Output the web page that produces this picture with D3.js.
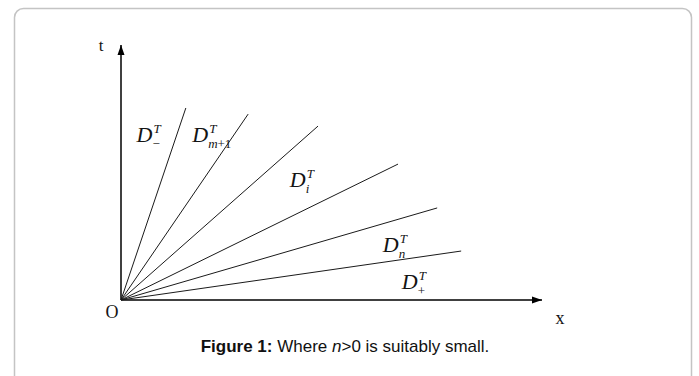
<!DOCTYPE html>
<html>
<head>
<meta charset="utf-8">
<script src="https://cdn.jsdelivr.net/npm/d3@7"></script>
<style>
  html, body { margin: 0; padding: 0; background: #fff; }
  svg { display: block; }
  .lbl { font-family: "Liberation Serif", "DejaVu Serif", serif; fill: #141414; }
</style>
</head>
<body>
<div id="chart"></div>
<script>
const width = 699;
const height = 376;

// end points of the rays from O (x, t in axis units 0..1)
const rayX = [0.154, 0.302, 0.468, 0.658, 0.751, 0.808];
const rayT = [0.753, 0.729, 0.682, 0.533, 0.361, 0.192];

// region labels D^T_sub (italic part, upright part)
const labelSubIt = ["", "m", "i", "n", ""];
const labelSubUp = ["\u2212", "+1", "", "", "+"];
const labelX = [0.037, 0.169, 0.401, 0.622, 0.667];
const labelT = [0.62, 0.62, 0.443, 0.188, 0.043];

const caption = ["Figure 1:", " Where ", "n", ">0 is suitably small."];

const svg = d3.select("#chart")
    .append("svg")
    .attr("width", width)
    .attr("height", height);

// frame
svg.append("rect")
    .attr("x", 14.5)
    .attr("y", 8.5)
    .attr("width", 677)
    .attr("height", 390)
    .attr("rx", 9)
    .attr("fill", "none")
    .attr("stroke", "#c4c4c4")
    .attr("stroke-width", 1.5);

const x = d3.scaleLinear().domain([0, 1]).range([121, 542]);
const y = d3.scaleLinear().domain([0, 1]).range([300, 45]);

svg.append("defs").append("marker")
    .attr("id", "arrow")
    .attr("viewBox", "0 0 10 10")
    .attr("refX", 10)
    .attr("refY", 5)
    .attr("markerWidth", 10)
    .attr("markerHeight", 10)
    .attr("markerUnits", "userSpaceOnUse")
    .attr("orient", "auto")
    .append("path")
    .attr("d", "M0,1.5 L10,5 L0,8.5 Z")
    .attr("fill", "#000");

// axes
svg.append("line")
    .attr("x1", x(0)).attr("y1", y(0))
    .attr("x2", x(1)).attr("y2", y(0))
    .attr("stroke", "#000").attr("stroke-width", 1.5)
    .attr("marker-end", "url(#arrow)");

svg.append("line")
    .attr("x1", x(0)).attr("y1", y(0))
    .attr("x2", x(0)).attr("y2", y(1))
    .attr("stroke", "#000").attr("stroke-width", 1.5)
    .attr("marker-end", "url(#arrow)");

// rays
svg.selectAll(".ray")
    .data(rayX.map((d, i) => ({ x: d, t: rayT[i] })))
    .join("line")
    .attr("class", "ray")
    .attr("x1", x(0)).attr("y1", y(0))
    .attr("x2", d => x(d.x)).attr("y2", d => y(d.t))
    .attr("stroke", "#1a1a1a")
    .attr("stroke-width", 1);

// axis names
svg.append("text").attr("class", "lbl").attr("x", 101).attr("y", 51)
    .attr("text-anchor", "middle").attr("font-size", 17).text("t");
svg.append("text").attr("class", "lbl").attr("x", 112).attr("y", 318)
    .attr("text-anchor", "middle").attr("font-size", 18).text("O");
svg.append("text").attr("class", "lbl").attr("x", 560).attr("y", 324)
    .attr("text-anchor", "middle").attr("font-size", 18).text("x");

// region labels
const lab = svg.selectAll(".region")
    .data(labelSubIt.map((s, i) => ({ it: s, up: labelSubUp[i], x: labelX[i], t: labelT[i] })))
    .join("g")
    .attr("class", "region")
    .attr("transform", d => `translate(${x(d.x)},${y(d.t)})`);

lab.append("text")
    .attr("class", "lbl")
    .attr("font-size", 22)
    .attr("font-style", "italic")
    .text("D");
lab.append("text")
    .attr("class", "lbl")
    .attr("x", 17)
    .attr("y", -9)
    .attr("font-size", 13)
    .attr("font-style", "italic")
    .text("T");
const sub = lab.append("text")
    .attr("class", "lbl")
    .attr("x", 16)
    .attr("y", 6)
    .attr("font-size", 13);
sub.append("tspan").attr("font-style", "italic").text(d => d.it);
sub.append("tspan").text(d => d.up);

// caption
const cap = svg.append("text")
    .attr("x", 345)
    .attr("y", 352)
    .attr("text-anchor", "middle")
    .attr("font-family", "Liberation Sans, Arial, sans-serif")
    .attr("font-size", 17)
    .attr("fill", "#111");
cap.selectAll("tspan")
    .data(caption)
    .join("tspan")
    .attr("font-weight", (d, i) => i === 0 ? "bold" : "normal")
    .attr("font-style", (d, i) => i === 2 ? "italic" : "normal")
    .text(d => d);
</script>
</body>
</html>
